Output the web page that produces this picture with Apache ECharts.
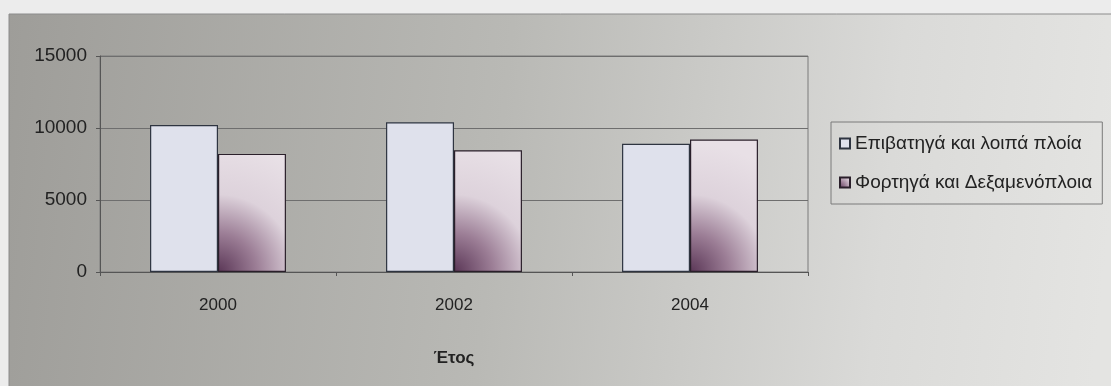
<!DOCTYPE html>
<html>
<head>
<meta charset="utf-8">
<script src="https://cdn.jsdelivr.net/npm/echarts@6/dist/echarts.min.js"></script>
<style>
  html, body { margin: 0; padding: 0; background: #ececec; }
  #main { width: 1111px; height: 386px; }
</style>
</head>
<body>
<div id="main"></div>
<script>
// δεδομένα
const years = ['2000', '2002', '2004'];
const passengerShips = [10200, 10400, 8900]; // Επιβατηγά και λοιπά πλοία
const cargoShips = [8200, 8450, 9200]; // Φορτηγά και Δεξαμενόπλοια
const seriesNames = ['Επιβατηγά και λοιπά πλοία', 'Φορτηγά και Δεξαμενόπλοια'];
const yTicks = [0, 5000, 10000, 15000];

let chart = echarts.init(document.getElementById('main'));

const font = 'Liberation Sans, Arial, sans-serif';

chart.setOption({
    backgroundColor: '#ececec',
    animation: false,
    graphic: [
        {
            type: 'rect',
            z: -10,
            shape: { x: 9, y: 14, width: 1110, height: 380 },
            style: {
                fill: {
                    type: 'linear', x: 0, y: 0, x2: 1, y2: 0.3,
                    colorStops: [
                        { offset: 0, color: '#9e9d99' },
                        { offset: 0.45, color: '#b9b9b5' },
                        { offset: 0.8, color: '#dadad8' },
                        { offset: 1, color: '#e4e4e2' }
                    ]
                },
                stroke: '#8c8c8c',
                lineWidth: 1
            }
        }
    ],
    grid: {
        left: 100,
        right: 303,
        top: 56,
        bottom: 114,
        show: true,
        borderColor: '#7a7a7a',
        borderWidth: 1,
        backgroundColor: 'transparent'
    },
    legend: {
        left: 831,
        top: 122,
        orient: 'vertical',
        icon: 'rect',
        itemWidth: 10,
        itemHeight: 10,
        itemGap: 20,
        padding: [12, 10, 12, 8],
        borderColor: '#7a7a7a',
        borderWidth: 1,
        textStyle: { fontFamily: font, fontSize: 19, color: '#222' },
        data: seriesNames
    },
    xAxis: {
        type: 'category',
        data: years,
        name: 'Έτος',
        nameLocation: 'middle',
        nameGap: 78,
        nameTextStyle: { fontFamily: font, fontSize: 17, fontWeight: 'bold', color: '#222' },
        axisLine: { lineStyle: { color: '#555' } },
        axisTick: { show: true, length: 4, lineStyle: { color: '#555' } },
        axisLabel: { fontFamily: font, fontSize: 17, color: '#222', margin: 25 }
    },
    yAxis: {
        type: 'value',
        min: yTicks[0],
        max: yTicks[yTicks.length - 1],
        interval: 5000,
        axisLine: { show: true, lineStyle: { color: '#555' } },
        axisTick: { show: true, length: 4, lineStyle: { color: '#555' } },
        axisLabel: { fontFamily: font, fontSize: 19, color: '#222', margin: 13, formatter: v => String(v) },
        splitLine: { lineStyle: { color: '#6e6e6e', width: 1 } }
    },
    series: [
        {
            name: seriesNames[0],
            type: 'bar',
            data: passengerShips,
            barWidth: '28.8%',
            barGap: '0%',
            itemStyle: { color: '#dfe1ec', borderColor: '#2e3440', borderWidth: 1.2 }
        },
        {
            name: seriesNames[1],
            type: 'bar',
            data: cargoShips,
            barWidth: '28.8%',
            itemStyle: {
                color: {
                    type: 'radial', x: 0, y: 1, r: 1.9,
                    colorStops: [
                        { offset: 0, color: '#5a3656' },
                        { offset: 0.3, color: '#9c7e96' },
                        { offset: 0.6, color: '#ddd2db' },
                        { offset: 1, color: '#e8e0e6' }
                    ]
                },
                borderColor: '#2a1f2a',
                borderWidth: 1.2
            }
        }
    ]
});
</script>
</body>
</html>
